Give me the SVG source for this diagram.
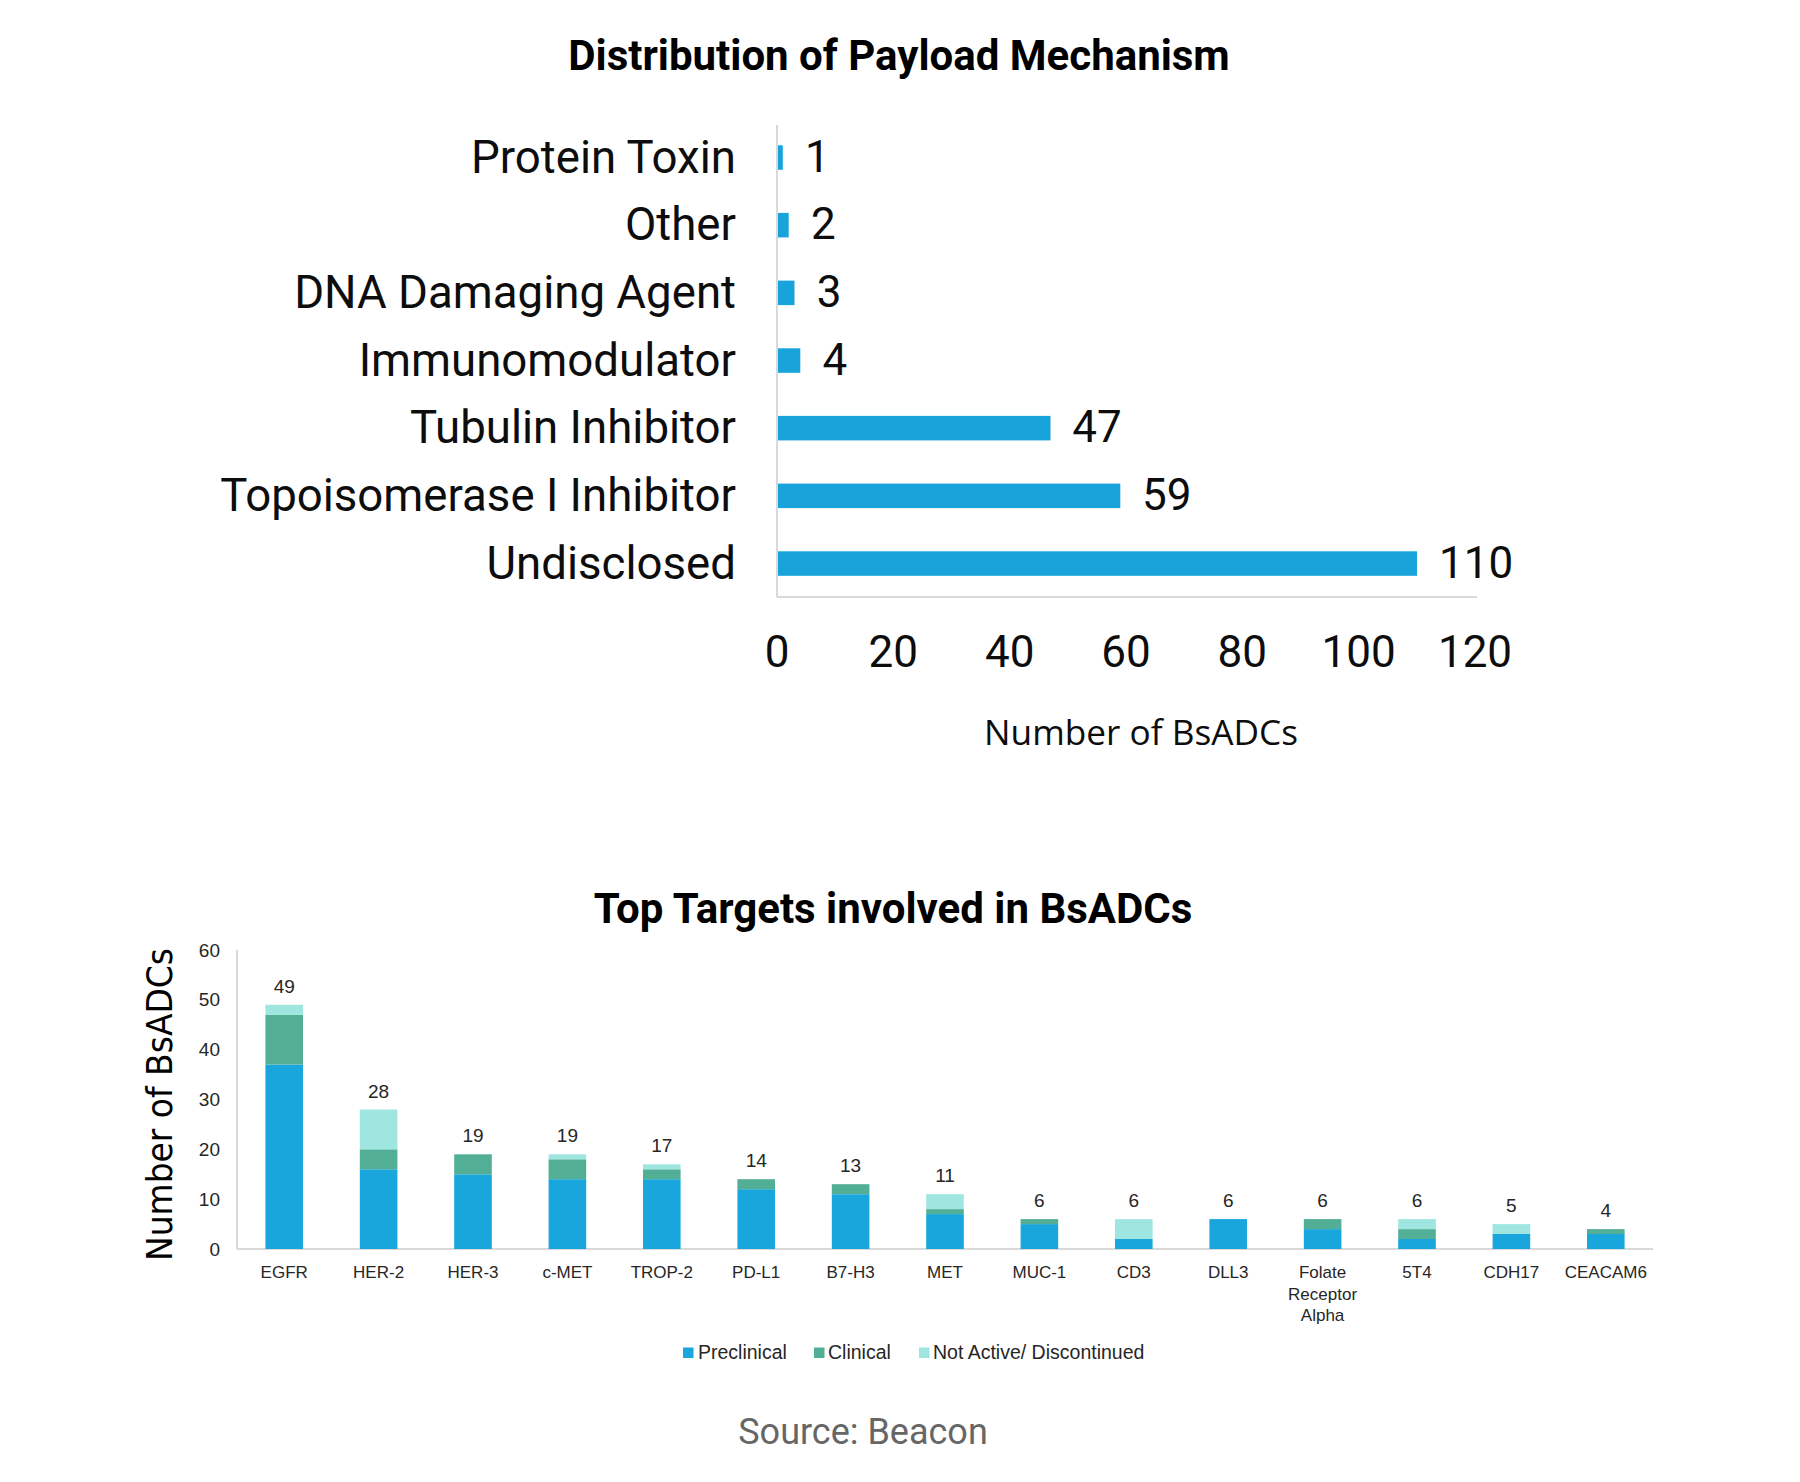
<svg xmlns="http://www.w3.org/2000/svg" width="1800" height="1482" viewBox="0 0 1800 1482">
<style>
.title{font-family:Roboto,"Liberation Sans",sans-serif;font-weight:bold;font-size:42px;fill:#000;text-anchor:middle}
.cat{font-family:Roboto,"Liberation Sans",sans-serif;font-size:45.6px;fill:#0d0d0d;text-anchor:end}
.val{font-family:Roboto,"Liberation Sans",sans-serif;font-size:44px;fill:#0d0d0d}
.tick{font-family:Roboto,"Liberation Sans",sans-serif;font-size:44px;fill:#0d0d0d;text-anchor:middle}
.axt{font-family:"Open Sans","Noto Sans",sans-serif;font-size:35.2px;fill:#0d0d0d;text-anchor:middle}
.axis{stroke:#d9d9d9;stroke-width:2;fill:none}
.bar{fill:#18a4db}
.pre{fill:#18a6dd}
.cli{fill:#52ae95}
.na{fill:#a0e6e0}
.sm{font-family:"Liberation Sans",Arial,sans-serif;font-size:17px;fill:#262626;text-anchor:middle}
.bv{font-family:"Liberation Sans",Arial,sans-serif;font-size:19px;fill:#262626;text-anchor:middle}
.yt{font-family:"Liberation Sans",Arial,sans-serif;font-size:19px;fill:#262626;text-anchor:end}
.leg{font-family:"Liberation Sans",Arial,sans-serif;font-size:19.5px;fill:#262626}
.yax{font-family:"DejaVu Sans",Verdana,sans-serif;font-size:36px;fill:#000;text-anchor:middle}
.src{font-family:Roboto,"Liberation Sans",sans-serif;font-size:36px;fill:#666;text-anchor:middle}
</style>
<rect width="1800" height="1482" fill="#fff"/>

<!-- Top chart -->
<g id="chart1">
  <text class="title" x="899" y="70">Distribution of Payload Mechanism</text>
  <g id="chart1-axes">
    <line class="axis" x1="777" y1="125" x2="777" y2="597"/>
    <line class="axis" x1="777" y1="597" x2="1477" y2="597"/>
  </g>
  <g id="chart1-cats">
    <text class="cat" x="736" y="172.5">Protein Toxin</text>
    <text class="cat" x="736" y="240.2">Other</text>
    <text class="cat" x="736" y="307.8">DNA Damaging Agent</text>
    <text class="cat" x="736" y="375.5">Immunomodulator</text>
    <text class="cat" x="736" y="443.2">Tubulin Inhibitor</text>
    <text class="cat" x="736" y="510.8">Topoisomerase I Inhibitor</text>
    <text class="cat" x="736" y="578.5">Undisclosed</text>
  </g>
  <g id="chart1-bars">
    <rect class="bar" x="778" y="145.3" width="4.8" height="24.5"/>
    <rect class="bar" x="778" y="212.9" width="10.7" height="24.5"/>
    <rect class="bar" x="778" y="280.6" width="16.5" height="24.5"/>
    <rect class="bar" x="778" y="348.3" width="22.3" height="24.5"/>
    <rect class="bar" x="778" y="415.9" width="272.5" height="24.5"/>
    <rect class="bar" x="778" y="483.6" width="342.3" height="24.5"/>
    <rect class="bar" x="778" y="551.3" width="639" height="24.5"/>
  </g>
  <g id="chart1-values">
    <text class="val" x="805" y="171.5">1</text>
    <text class="val" x="810.9" y="239.2">2</text>
    <text class="val" x="816.7" y="306.8">3</text>
    <text class="val" x="822.5" y="374.5">4</text>
    <text class="val" x="1072.2" y="442.2">47</text>
    <text class="val" x="1142" y="509.8">59</text>
    <text class="val" x="1439" y="577.5">110</text>
  </g>
  <g id="chart1-ticks">
    <text class="tick" x="777" y="667">0</text>
    <text class="tick" x="893.3" y="667">20</text>
    <text class="tick" x="1009.7" y="667">40</text>
    <text class="tick" x="1126" y="667">60</text>
    <text class="tick" x="1242.3" y="667">80</text>
    <text class="tick" x="1358.7" y="667">100</text>
    <text class="tick" x="1475" y="667">120</text>
  </g>
  <text class="axt" x="1141" y="745">Number of BsADCs</text>
</g>

<!-- Bottom chart -->
<g id="chart2">
  <text class="title" x="893" y="923">Top Targets involved in BsADCs</text>
  <text class="yax" transform="translate(172,1104.5) rotate(-90)" textLength="313" lengthAdjust="spacingAndGlyphs">Number of BsADCs</text>
  <g id="chart2-axes">
    <line class="axis" x1="237" y1="950" x2="237" y2="1249"/>
    <line class="axis" x1="237" y1="1249" x2="1653" y2="1249"/>
  </g>
  <g id="chart2-yticks">
    <text class="yt" x="220" y="1255.5">0</text>
    <text class="yt" x="220" y="1205.7">10</text>
    <text class="yt" x="220" y="1155.8">20</text>
    <text class="yt" x="220" y="1106">30</text>
    <text class="yt" x="220" y="1056.2">40</text>
    <text class="yt" x="220" y="1006.4">50</text>
    <text class="yt" x="220" y="956.5">60</text>
  </g>
  <g id="bar-EGFR">
    <rect class="pre" x="265.4" y="1064.6" width="37.6" height="184.4"/>
    <rect class="cli" x="265.4" y="1014.8" width="37.6" height="49.8"/>
    <rect class="na" x="265.4" y="1004.8" width="37.6" height="10"/>
    <text class="bv" x="284.2" y="993">49</text>
    <text class="sm" x="284.2" y="1278">EGFR</text>
  </g>
  <g id="bar-HER-2">
    <rect class="pre" x="359.8" y="1169.3" width="37.6" height="79.7"/>
    <rect class="cli" x="359.8" y="1149.3" width="37.6" height="20"/>
    <rect class="na" x="359.8" y="1109.5" width="37.6" height="39.8"/>
    <text class="bv" x="378.6" y="1097.5">28</text>
    <text class="sm" x="378.6" y="1278">HER-2</text>
  </g>
  <g id="bar-HER-3">
    <rect class="pre" x="454.2" y="1174.3" width="37.6" height="74.7"/>
    <rect class="cli" x="454.2" y="1154.3" width="37.6" height="20"/>
    <text class="bv" x="473" y="1142.3">19</text>
    <text class="sm" x="473" y="1278">HER-3</text>
  </g>
  <g id="bar-c-MET">
    <rect class="pre" x="548.6" y="1179.2" width="37.6" height="69.8"/>
    <rect class="cli" x="548.6" y="1159.3" width="37.6" height="19.9"/>
    <rect class="na" x="548.6" y="1154.3" width="37.6" height="5"/>
    <text class="bv" x="567.4" y="1142.3">19</text>
    <text class="sm" x="567.4" y="1278">c-MET</text>
  </g>
  <g id="bar-TROP-2">
    <rect class="pre" x="643" y="1179.2" width="37.6" height="69.8"/>
    <rect class="cli" x="643" y="1169.3" width="37.6" height="9.9"/>
    <rect class="na" x="643" y="1164.3" width="37.6" height="5"/>
    <text class="bv" x="661.8" y="1152.3">17</text>
    <text class="sm" x="661.8" y="1278">TROP-2</text>
  </g>
  <g id="bar-PD-L1">
    <rect class="pre" x="737.4" y="1189.2" width="37.6" height="59.8"/>
    <rect class="cli" x="737.4" y="1179.2" width="37.6" height="10"/>
    <text class="bv" x="756.2" y="1167.2">14</text>
    <text class="sm" x="756.2" y="1278">PD-L1</text>
  </g>
  <g id="bar-B7-H3">
    <rect class="pre" x="831.8" y="1194.2" width="37.6" height="54.8"/>
    <rect class="cli" x="831.8" y="1184.2" width="37.6" height="10"/>
    <text class="bv" x="850.6" y="1172.2">13</text>
    <text class="sm" x="850.6" y="1278">B7-H3</text>
  </g>
  <g id="bar-MET">
    <rect class="pre" x="926.2" y="1214.1" width="37.6" height="34.9"/>
    <rect class="cli" x="926.2" y="1209.1" width="37.6" height="5"/>
    <rect class="na" x="926.2" y="1194.2" width="37.6" height="14.9"/>
    <text class="bv" x="945" y="1182.2">11</text>
    <text class="sm" x="945" y="1278">MET</text>
  </g>
  <g id="bar-MUC-1">
    <rect class="pre" x="1020.6" y="1224.1" width="37.6" height="24.9"/>
    <rect class="cli" x="1020.6" y="1219.1" width="37.6" height="5"/>
    <text class="bv" x="1039.4" y="1207.1">6</text>
    <text class="sm" x="1039.4" y="1278">MUC-1</text>
  </g>
  <g id="bar-CD3">
    <rect class="pre" x="1115" y="1239" width="37.6" height="10"/>
    <rect class="na" x="1115" y="1219.1" width="37.6" height="19.9"/>
    <text class="bv" x="1133.8" y="1207.1">6</text>
    <text class="sm" x="1133.8" y="1278">CD3</text>
  </g>
  <g id="bar-DLL3">
    <rect class="pre" x="1209.4" y="1219.1" width="37.6" height="29.9"/>
    <text class="bv" x="1228.2" y="1207.1">6</text>
    <text class="sm" x="1228.2" y="1278">DLL3</text>
  </g>
  <g id="bar-Folate">
    <rect class="pre" x="1303.8" y="1229.1" width="37.6" height="19.9"/>
    <rect class="cli" x="1303.8" y="1219.1" width="37.6" height="10"/>
    <text class="bv" x="1322.6" y="1207.1">6</text>
    <text class="sm" x="1322.6" y="1278">Folate</text>
    <text class="sm" x="1322.6" y="1299.5">Receptor</text>
    <text class="sm" x="1322.6" y="1321">Alpha</text>
  </g>
  <g id="bar-5T4">
    <rect class="pre" x="1398.2" y="1239" width="37.6" height="10"/>
    <rect class="cli" x="1398.2" y="1229.1" width="37.6" height="9.9"/>
    <rect class="na" x="1398.2" y="1219.1" width="37.6" height="10"/>
    <text class="bv" x="1417" y="1207.1">6</text>
    <text class="sm" x="1417" y="1278">5T4</text>
  </g>
  <g id="bar-CDH17">
    <rect class="pre" x="1492.6" y="1234" width="37.6" height="15"/>
    <rect class="na" x="1492.6" y="1224.1" width="37.6" height="9.9"/>
    <text class="bv" x="1511.4" y="1212.1">5</text>
    <text class="sm" x="1511.4" y="1278">CDH17</text>
  </g>
  <g id="bar-CEACAM6">
    <rect class="pre" x="1587" y="1234" width="37.6" height="15"/>
    <rect class="cli" x="1587" y="1229.1" width="37.6" height="4.9"/>
    <text class="bv" x="1605.8" y="1217.1">4</text>
    <text class="sm" x="1605.8" y="1278">CEACAM6</text>
  </g>
  <g id="legend">
    <rect class="pre" x="683" y="1347.5" width="10.5" height="10.5"/>
    <text class="leg" x="698" y="1358.5">Preclinical</text>
    <rect class="cli" x="814" y="1347.5" width="10.5" height="10.5"/>
    <text class="leg" x="828" y="1358.5">Clinical</text>
    <rect class="na" x="919" y="1347.5" width="10.5" height="10.5"/>
    <text class="leg" x="933" y="1358.5">Not Active/ Discontinued</text>
  </g>
</g>

<text id="source" class="src" x="863" y="1444">Source: Beacon</text>
</svg>
